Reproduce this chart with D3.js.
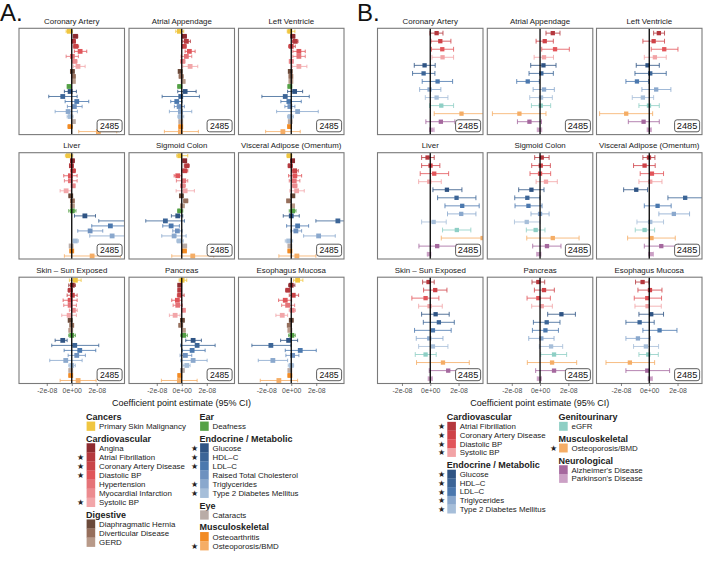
<!DOCTYPE html>
<html><head><meta charset="utf-8">
<script src="https://cdn.jsdelivr.net/npm/d3@7"></script>
<style>body{margin:0;background:#fff} text{font-family:"Liberation Sans",Arial,Helvetica,sans-serif}</style>
</head><body><svg id="c" width="706" height="562"></svg>
<script>
// ---------- DATA (estimates in units of 1e-8) ----------
const UNIT = 1e-8;
const tissues = ["Coronary Artery","Atrial Appendage","Left Ventricle","Liver","Sigmoid Colon","Visceral Adipose (Omentum)","Skin – Sun Exposed","Pancreas","Esophagus Mucosa"];
const tickValues = [-2e-8, 0, 2e-8];
const tickLabels = ["-2e-08","0e+00","2e-08"];
const sampleLabel = "2485";
const axisTitle = "Coefficient point estimate (95% CI)";

const traitsA = ["Primary Skin Malignancy","Angina","Atrial Fibrillation","Coronary Artery Disease","Diastolic BP","Hypertension","Myocardial Infarction","Systolic BP","Diaphragmatic Hernia","Diverticular Disease","GERD","Deafness","Glucose","HDL–C","LDL–C","Raised Total Cholesterol","Triglycerides","Type 2 Diabetes Mellitus","Cataracts","Osteoarthritis","Osteoporosis/BMD"];
const groupsA = ["Cancers","Cardiovascular","Cardiovascular","Cardiovascular","Cardiovascular","Cardiovascular","Cardiovascular","Cardiovascular","Digestive","Digestive","Digestive","Ear","Endocrine / Metabolic","Endocrine / Metabolic","Endocrine / Metabolic","Endocrine / Metabolic","Endocrine / Metabolic","Endocrine / Metabolic","Eye","Musculoskeletal","Musculoskeletal"];
const colorsA = ["#F0C640","#8E2B2F","#B5393E","#C94448","#E0555A","#E57378","#EC8B8F","#F2A6A9","#6B4A3A","#966F5C","#B89A89","#55A146","#2F5484","#3C6597","#4B78AE","#6E91BF","#8AA8CD","#A6BED9","#B9ACA7","#F28B24","#F5AD65"];
const starsA = [0,0,1,1,1,0,0,1,0,0,0,0,1,1,1,0,1,1,0,0,1];
const legendColsA = [["Cancers","Cardiovascular","Digestive"],["Ear","Endocrine / Metabolic","Eye","Musculoskeletal"]];

const estA = [
 [-0.2,0.3,0.13,0.32,0.67,0.05,0.24,0.5,0.05,0.13,0.13,-0.21,-0.13,-0.72,0.4,0.21,-0.29,-0.13,0.13,-0.13,2.13],
 [-0.19,0.21,0.37,0.19,0.61,0.37,0.08,0.67,-0.13,-0.05,0.11,-0.16,0.27,-0.08,-0.4,-0.21,-0.11,-0.11,-0.08,-0.08,-0.11],
 [-0.11,0.13,0.32,0,0.61,0.61,0,0.61,-0.08,-0.03,-0.03,-0.11,0.27,-0.48,-0.19,-0.11,0.51,-0.08,-0.08,-0.13,-0.67],
 [-0.27,0.05,-0.03,0.11,-0.11,-0.11,0.11,-0.45,-0.08,0.05,0.05,0.05,1.05,4.6,3.09,1.47,3.23,0.29,-0.05,0,1.63],
 [-0.16,0.24,0.4,0.24,-0.32,0.16,0.08,0.27,-0.03,0.32,0.05,-0.16,-0.32,-1.31,-0.85,-0.35,-0.61,-0.19,0.24,0.21,0.88],
 [-0.16,0.11,-0.08,0.27,0.29,0.24,0.29,0.43,0.13,-0.21,0.11,0.11,0,3.73,0.51,0.37,2.19,-0.21,-0.11,-0.11,0.45],
 [0.29,0.05,-0.11,0.05,-0.13,-0.13,0.13,-0.21,-0.13,0,-0.08,0,-0.72,0.24,0.64,0.4,-0.48,0,-0.08,-0.08,0.51],
 [0.03,-0.16,-0.16,-0.16,-0.35,-0.32,0.13,-0.53,0.05,-0.08,0.13,0.16,0.91,1.23,0.83,0.29,0.91,0.4,0.05,-0.16,-0.19],
 [0.51,0,-0.27,0.16,-0.48,-0.29,0.08,-0.72,0,-0.16,-0.11,0.05,-0.21,-1.63,0.72,0.11,-1.47,0,-0.11,-0.11,-0.99]
];
const lowA = [
 [-0.45,0.12,-0.02,0.12,0.21,-0.45,0.06,0.13,-0.08,0,0.02,-0.35,-0.59,-1.84,-0.53,-0.35,-1.33,-0.37,0.03,-0.3,0.56],
 [-0.48,0.05,0.08,0.05,0.27,-0.05,-0.1,0.08,-0.26,-0.2,-0.02,-0.32,-0.32,-1.57,-0.88,-0.59,-0.99,-0.32,-0.2,-0.22,-1.39],
 [-0.32,-0.02,0.1,-0.21,0.13,0.13,-0.15,0.08,-0.2,-0.15,-0.15,-0.25,-0.29,-2.35,-0.83,-0.51,-1.17,-0.3,-0.2,-0.27,-2.05],
 [-0.51,-0.1,-0.18,-0.08,-0.64,-0.59,-0.04,-0.93,-0.2,-0.08,-0.08,-0.24,0.22,2.16,1.6,0.48,1.44,0.1,-0.17,-0.13,-0.59],
 [-0.4,0.1,0.2,0,-0.61,-0.43,-0.1,-0.45,-0.15,0.15,-0.08,-0.32,-0.83,-2.88,-1.52,-0.72,-1.6,-0.4,0.1,0.06,-0.8],
 [-0.35,-0.03,-0.25,0.03,-0.21,-0.16,0.1,-0.11,0,-0.34,-0.02,-0.16,-0.64,1.97,-0.37,-0.03,0.99,-0.48,-0.23,-0.25,-0.99],
 [-0.19,-0.24,-0.3,-0.37,-0.69,-0.64,-0.19,-0.8,-0.26,-0.13,-0.2,-0.24,-1.33,-1.6,-0.61,-0.29,-1.76,-0.24,-0.2,-0.22,-0.93],
 [-0.21,-0.29,-0.29,-0.35,-0.8,-0.69,0,-0.99,-0.08,-0.21,0,-0.08,0.32,-0.08,0.05,-0.13,-0.08,0.11,-0.07,-0.29,-1.63],
 [0.19,-0.21,-0.45,-0.16,-1.01,-0.77,-0.16,-1.23,-0.13,-0.29,-0.23,-0.21,-0.85,-3.15,-0.48,-0.43,-2.64,-0.24,-0.23,-0.25,-2.48]
];
const highA = [
 [0.05,0.48,0.3,0.55,1.2,0.53,0.42,1.07,0.18,0.26,0.24,-0.07,0.37,0.43,1.36,0.83,0.45,0.11,0.23,0.04,3.6],
 [0.16,0.37,0.69,0.35,1.07,0.8,0.26,1.28,0,0.1,0.24,0,1.15,1.41,0.03,0.21,0.8,0.16,0.04,0.06,1.33],
 [0.29,0.28,0.54,0.32,1.12,1.12,0.15,1.25,0.04,0.09,0.09,0.03,0.91,1.44,0.8,0.29,2.16,0.18,0.04,0.01,0.72],
 [0.08,0.2,0.12,0.3,0.43,0.43,0.26,-0.05,0.04,0.18,0.18,0.34,1.9,7.0,4.6,2.48,4.6,0.53,0.07,0.13,3.89],
 [0.48,0.38,0.6,0.48,0,0.48,0.3,1.01,0.09,0.48,0.18,0.08,0.08,0.21,-0.19,0.03,0.35,0.13,0.38,0.36,2.56],
 [0.05,0.25,0.08,0.56,0.83,0.69,0.45,1.04,0.26,-0.08,0.24,0.38,0.64,5.5,1.39,0.83,3.52,0.11,0.01,0.03,1.97],
 [0.75,0.29,0.05,0.43,0.43,0.37,0.43,0.37,0,0.13,0.04,0.29,-0.37,2.16,1.92,1.09,0.83,0.29,0.04,0.06,1.95],
 [0.4,-0.03,-0.03,0.19,0,0.05,0.26,-0.13,0.18,0.05,0.26,0.45,1.57,2.67,1.87,0.8,2.03,0.67,0.17,-0.03,1.23],
 [0.93,0.29,-0.1,0.59,0.03,0.27,0.32,-0.29,0.13,-0.03,0.01,0.32,0.51,-0.03,2.0,0.61,-0.29,0.19,0.01,0.03,0.51]
];

const traitsB = ["Atrial Fibrillation","Coronary Artery Disease","Diastolic BP","Systolic BP","Glucose","HDL–C","LDL–C","Triglycerides","Type 2 Diabetes Mellitus","eGFR","Osteoporosis/BMD","Alzheimer's Disease","Parkinson's Disease"];
const groupsB = ["Cardiovascular","Cardiovascular","Cardiovascular","Cardiovascular","Endocrine / Metabolic","Endocrine / Metabolic","Endocrine / Metabolic","Endocrine / Metabolic","Endocrine / Metabolic","Genitourinary","Musculoskeletal","Neurological","Neurological"];
const colorsB = ["#B5383E","#CF4248","#E2555A","#F2A3A6","#2F5484","#3C6597","#4B78AE","#8AA8CD","#A6BED9","#8ECFC5","#F5AD65","#A5689E","#CBA0C5"];
const starsB = [1,1,1,1,1,1,1,1,1,0,1,0,0];
const legendColsB = [["Cardiovascular","Endocrine / Metabolic"],["Genitourinary","Musculoskeletal","Neurological"]];

const estB = [
 [0.45,0.71,0.85,0.87,-0.4,-0.47,0.52,-0.05,0.45,0.78,2.21,0.75,0.09],
 [0.9,0.33,1.06,0.28,0.24,0.09,-0.87,0.28,0.07,0.05,-1.46,-0.75,-0.05],
 [0.68,0.31,1.06,0.4,-0.12,0.07,-0.87,0.49,-0.45,-0.02,-1.63,-0.4,0],
 [-0.19,0.02,0.28,-0.07,1.18,1.86,2.26,2.19,0.24,1.88,3.7,0.49,-0.09],
 [0.12,0.05,0,0.42,-0.61,-0.9,-0.82,0,-0.94,-0.31,0.9,0.49,-0.09],
 [-0.02,-0.33,0.19,0.07,-0.92,2.54,0.59,1.74,0.07,-0.33,0.16,0.85,0.12],
 [-0.12,0.35,-0.33,-0.05,0.38,0.61,0.19,-0.07,0.19,-0.33,0.9,1.27,0],
 [-0.12,0.28,-0.12,0.12,1.51,0.47,0.38,0.09,0.78,0.99,0.85,0.99,-0.05],
 [-0.47,0.05,-0.14,-0.12,0.14,-0.68,0.73,-0.8,-0.24,-0.07,-1.37,-0.14,0.07]
];
const lowB = [
 [-0.02,0.05,0.09,0.12,-1.13,-1.25,-0.57,-0.75,-0.35,-0.05,0.28,-0.31,-0.05],
 [0.42,-0.28,0.12,-0.42,-0.66,-0.78,-1.65,-0.49,-0.73,-0.61,-3.37,-1.6,-0.2],
 [0.31,-0.45,0.14,-0.35,-0.92,-1.01,-1.65,-0.52,-1.2,-0.73,-3.51,-1.48,-0.15],
 [-0.61,-0.61,-0.71,-0.82,0.19,0.52,1.04,1.22,-0.61,0.87,0.78,-0.8,-0.2],
 [-0.38,-0.59,-0.71,-0.28,-1.51,-1.79,-1.77,-0.64,-1.81,-0.97,-0.94,-0.52,-0.24],
 [-0.45,-1.11,-0.64,-0.73,-1.81,1.32,-0.35,0.68,-0.87,-0.99,-1.53,-0.35,-0.05],
 [-0.54,-0.47,-1.3,-0.82,-0.61,-0.49,-1.11,-0.99,-0.82,-1.06,-0.97,-0.07,-0.15],
 [-0.57,-0.4,-0.92,-0.59,0.54,-0.47,-0.54,-0.8,-0.05,0.05,-0.9,-0.31,-0.2],
 [-0.97,-0.8,-1.06,-1.01,-0.73,-1.65,-0.45,-1.65,-1.11,-0.73,-3.06,-1.65,-0.08]
];
const highB = [
 [0.9,1.46,1.65,1.65,0.35,0.33,1.58,0.75,1.25,1.65,4.2,1.74,0.28],
 [1.41,0.94,2.07,0.95,1.13,0.94,-0.05,1.01,0.87,0.75,0.42,0.1,0.12],
 [1.08,1.08,2.03,1.2,0.71,1.2,-0.05,1.53,0.31,0.71,0.24,0.71,0.15],
 [0.28,0.68,1.3,0.78,2.24,3.23,3.46,3.23,1.13,2.87,4.6,1.84,0.04],
 [0.64,0.73,0.75,1.22,0.28,0,0.14,0.64,0,0.35,2.76,1.48,0.07],
 [0.4,0.42,1.01,0.9,-0.12,4.0,1.55,2.85,1.01,0.38,1.84,2.07,0.3],
 [0.28,1.18,0.61,0.85,1.34,1.7,1.48,0.9,1.25,0.42,2.76,2.69,0.15],
 [0.33,1.01,0.73,0.87,2.5,1.41,1.3,0.99,1.6,1.88,2.59,2.24,0.1],
 [-0.02,0.9,0.87,0.85,1.01,0.35,1.96,0.09,0.66,0.64,0.38,1.44,0.22]
];

// ---------- DRAW ----------
const svg = d3.select("#c");
const rowTops = [28.3, 152.7, 277.2];
const panelH = 106.3;

function drawBlock(cfg) {
  const {letter, letterX, lefts, panelW, half, traits, colors, est, low, high, sq, cap, legendCols, groups, stars, leg, nFont} = cfg;
  svg.append("text").attr("x", letterX).attr("y", 21).attr("font-size", 24).attr("fill", "#111").text(letter);
  tissues.forEach((t, i) => {
    const r = Math.floor(i / 3), c = i % 3;
    const x0 = lefts[c], y0 = rowTops[r];
    const x = d3.scaleLinear().domain([-half, half]).range([x0, x0 + panelW]);
    const y = d3.scalePoint().domain(traits).range([y0, y0 + panelH]).padding(0.6);
    const id = "clip" + letter.replace(".", "") + i;
    svg.append("clipPath").attr("id", id).append("rect").attr("x", x0).attr("y", y0).attr("width", panelW).attr("height", panelH);
    svg.append("text").attr("x", x0 + panelW / 2).attr("y", y0 - 4.3).attr("text-anchor", "middle")
      .attr("font-size", 7.9).attr("fill", "#1a1a1a").text(t);
    const g = svg.append("g").attr("clip-path", `url(#${id})`);
    const rows = traits.map((tr, k) => ({tr, k, e: est[i][k] * UNIT, lo: low[i][k] * UNIT, hi: high[i][k] * UNIT, col: colors[k]}));
    const eb = g.selectAll("g.eb").data(rows).join("g").attr("stroke", d => d.col).attr("stroke-width", 0.9).attr("stroke-opacity", 0.9);
    eb.append("line").attr("x1", d => x(d.lo)).attr("x2", d => x(d.hi)).attr("y1", d => y(d.tr)).attr("y2", d => y(d.tr));
    eb.append("line").attr("x1", d => x(d.lo)).attr("x2", d => x(d.lo)).attr("y1", d => y(d.tr) - cap / 2).attr("y2", d => y(d.tr) + cap / 2);
    eb.append("line").attr("x1", d => x(d.hi)).attr("x2", d => x(d.hi)).attr("y1", d => y(d.tr) - cap / 2).attr("y2", d => y(d.tr) + cap / 2);
    g.selectAll("rect.pt").data(rows).join("rect").attr("class", "pt")
      .attr("x", d => x(d.e) - sq / 2).attr("y", d => y(d.tr) - sq / 2).attr("width", sq).attr("height", sq).attr("fill", d => d.col);
    svg.append("line").attr("x1", x(0)).attr("x2", x(0)).attr("y1", y0).attr("y2", y0 + panelH).attr("stroke", "#000").attr("stroke-width", 1.3);
    // N label
    const bw = 25, bh = 12;
    const bx = x0 + panelW - 2.4 - bw, by = y0 + panelH - 2.8 - bh;
    svg.append("rect").attr("x", bx).attr("y", by).attr("width", bw).attr("height", bh).attr("rx", 2.5)
      .attr("fill", "#fff").attr("stroke", "#333").attr("stroke-width", 0.8);
    svg.append("text").attr("x", bx + bw / 2).attr("y", by + bh / 2 + 3.2).attr("text-anchor", "middle").attr("font-size", nFont).attr("fill", "#111").text(sampleLabel);
    svg.append("rect").attr("x", x0).attr("y", y0).attr("width", panelW).attr("height", panelH)
      .attr("fill", "none").attr("stroke", "#7a7a7a").attr("stroke-width", 1.1);
    if (r === 2) {
      const ax = d3.axisBottom(x).tickValues(tickValues).tickSize(2.5).tickFormat((d, j) => tickLabels[j]);
      const ag = svg.append("g").attr("transform", `translate(0,${y0 + panelH})`).call(ax);
      ag.select(".domain").remove();
      ag.selectAll("line").attr("stroke", "#333").attr("stroke-width", 0.6);
      ag.selectAll("text").attr("font-size", 6.9).attr("fill", "#4d4d4d").attr("dy", "0.71em").attr("y", 4.5)
        .attr("font-family", '"Liberation Sans",Arial,sans-serif');
    }
  });
  svg.append("text").attr("x", (lefts[0] + lefts[2] + panelW) / 2).attr("y", 405.8).attr("text-anchor", "middle")
    .attr("font-size", 9).attr("fill", "#111").text(axisTitle);
  // legend
  legendCols.forEach((col, ci) => {
    let yy = leg.y0;
    const lx = leg.xs[ci];
    col.forEach((grp, gi) => {
      if (gi > 0) yy += leg.gap;
      svg.append("text").attr("x", lx).attr("y", yy + 3.2).attr("font-size", 9).attr("font-weight", "bold").attr("fill", "#222").text(grp);
      yy += leg.first;
      const items = traits.map((tr, k) => ({tr, k})).filter(d => groups[d.k] === grp);
      items.forEach((d, ii) => {
        if (ii > 0) yy += leg.step;
        svg.append("rect").attr("x", lx + 0.6).attr("y", yy - leg.step / 2).attr("width", 8.6).attr("height", leg.step + 0.2).attr("fill", colors[d.k]);
        svg.append("text").attr("x", lx + 13).attr("y", yy + 2.9).attr("font-size", 7.9).attr("fill", "#222").text(d.tr);
        if (stars[d.k]) svg.append("text").attr("x", lx - 5.3).attr("y", yy + 3.1).attr("text-anchor", "middle").attr("font-size", 8).attr("fill", "#222").text("★");
      });
    });
  });
}

drawBlock({letter: "A.", letterX: 0, lefts: [19, 129, 238.5], panelW: 105.5, half: 4.22e-8,
  traits: traitsA, colors: colorsA, est: estA, low: lowA, high: highA, sq: 4.8, cap: 3.5,
  legendCols: legendColsA, groups: groupsA, stars: starsA, nFont: 8.6,
  leg: {y0: 416.7, xs: [86, 199.5], first: 9.4, step: 9.08, gap: 12.3}});
drawBlock({letter: "B.", letterX: 357, lefts: [377.5, 487.3, 596.5], panelW: 105.5, half: 3.73e-8,
  traits: traitsB, colors: colorsB, est: estB, low: lowB, high: highB, sq: 4.3, cap: 4.8,
  legendCols: legendColsB, groups: groupsB, stars: starsB, nFont: 9.2,
  leg: {y0: 417, xs: [446.7, 558.5], first: 9.2, step: 8.72, gap: 12.5}});
</script></body></html>
